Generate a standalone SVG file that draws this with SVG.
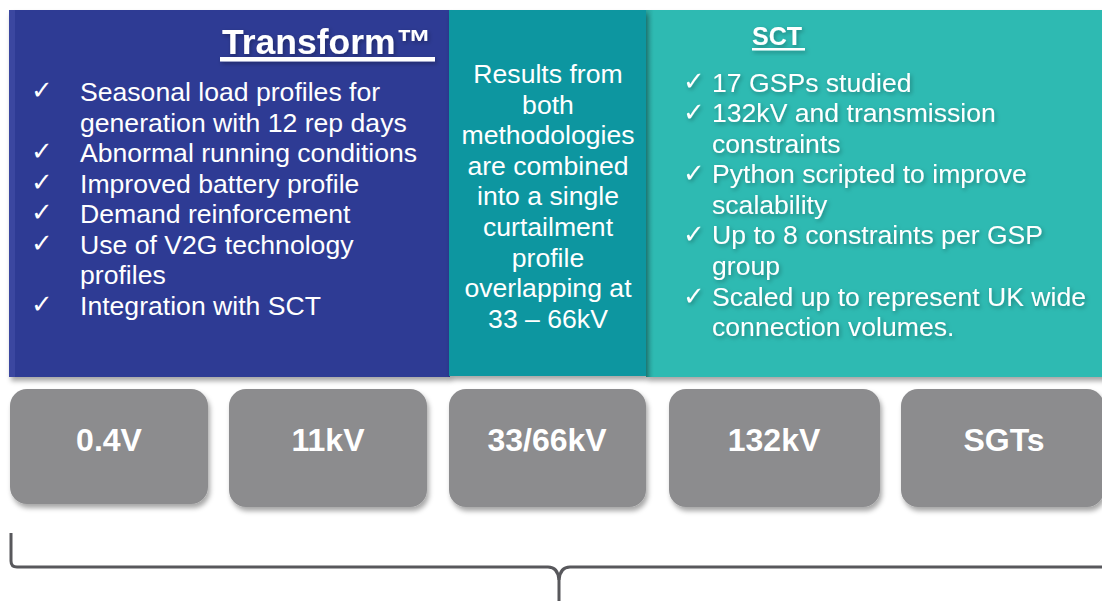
<svg xmlns="http://www.w3.org/2000/svg" width="1102" height="601" viewBox="0 0 1102 601">
<defs>
<style>
.body{font-family:"Liberation Sans",Arial,sans-serif;font-size:26.6px;fill:#fff}
.chk{font-family:"DejaVu Sans",sans-serif;font-size:26px;fill:#fff}
.ttl{font-family:"Liberation Sans",Arial,sans-serif;font-weight:bold;fill:#fff}
.box{fill:#8c8c8e}
.lbl{font-family:"Liberation Sans",Arial,sans-serif;font-weight:bold;font-size:32px;fill:#fff;text-anchor:middle}
.brace{fill:none;stroke:#58585c;stroke-width:3;stroke-linejoin:round}
</style>
<filter id="sh" x="-5%" y="-5%" width="110%" height="115%">
<feDropShadow dx="2" dy="4" stdDeviation="2.5" flood-color="#000" flood-opacity="0.35"/>
</filter>
<filter id="tsh" x="-10%" y="-20%" width="120%" height="150%">
<feDropShadow dx="1.5" dy="2" stdDeviation="2" flood-color="#000" flood-opacity="0.3"/>
</filter>
<linearGradient id="edge" x1="0" x2="1" y1="0" y2="0">
<stop offset="0" stop-color="#000" stop-opacity="0.12"/>
<stop offset="1" stop-color="#000" stop-opacity="0"/>
</linearGradient>
</defs>
<rect width="1102" height="601" fill="#fff"/>

<g id="transform-panel">
<rect x="9" y="10" width="441" height="367" fill="#2e3a94" filter="url(#sh)"/>
<rect x="9" y="10" width="6" height="367" fill="#4450a8" opacity="0.6"/>
<g filter="url(#tsh)">
<text class="ttl" x="222" y="54" font-size="35.5">Transform<tspan font-size="35" dx="1">™</tspan></text>
<rect x="220" y="57" width="215" height="4.5" fill="#fff"/>
</g>
<g class="chk">
<text x="31" y="99">✓</text>
<text x="31" y="160">✓</text>
<text x="31" y="191">✓</text>
<text x="31" y="221">✓</text>
<text x="31" y="252">✓</text>
<text x="31" y="313">✓</text>
</g>
<g class="body">
<text x="80" y="101">Seasonal load profiles for</text>
<text x="80" y="131.5">generation with 12 rep days</text>
<text x="80" y="162">Abnormal running conditions</text>
<text x="80" y="192.5">Improved battery profile</text>
<text x="80" y="223">Demand reinforcement</text>
<text x="80" y="253.5">Use of V2G technology</text>
<text x="80" y="284">profiles</text>
<text x="80" y="314.5">Integration with SCT</text>
</g>
</g>

<g id="sct-panel">
<rect x="646" y="10" width="460" height="367" fill="#2dbab2" filter="url(#sh)"/>
<rect x="646" y="10" width="8" height="367" fill="url(#edge)"/>
<g filter="url(#tsh)">
<text class="ttl" x="752" y="45" font-size="25">SCT</text>
<rect x="752" y="48" width="53" height="2.5" fill="#fff"/>
</g>
<g filter="url(#tsh)">
<g class="chk">
<text x="683" y="90">✓</text>
<text x="683" y="120.5">✓</text>
<text x="683" y="182">✓</text>
<text x="683" y="243">✓</text>
<text x="683" y="304.5">✓</text>
</g>
<g class="body">
<text x="712" y="91.5">17 GSPs studied</text>
<text x="712" y="122">132kV and transmission</text>
<text x="712" y="152.6">constraints</text>
<text x="712" y="183.2">Python scripted to improve</text>
<text x="712" y="213.8">scalability</text>
<text x="712" y="244.4">Up to 8 constraints per GSP</text>
<text x="712" y="275">group</text>
<text x="712" y="305.6">Scaled up to represent UK wide</text>
<text x="712" y="336.2">connection volumes.</text>
</g>
</g>
</g>

<g id="combined-panel">
<rect x="449" y="10" width="197" height="366" fill="#0a96a0" filter="url(#sh)"/>
<g class="body" text-anchor="middle">
<text x="548" y="83">Results from</text>
<text x="548" y="113.6">both</text>
<text x="548" y="144.2">methodologies</text>
<text x="548" y="174.8">are combined</text>
<text x="548" y="205.4">into a single</text>
<text x="548" y="236">curtailment</text>
<text x="548" y="266.6">profile</text>
<text x="548" y="297.2">overlapping at</text>
<text x="548" y="327.8">33 – 66kV</text>
</g>
</g>

<g id="box-04v">
<rect class="box" x="10" y="389" width="198" height="115" rx="17" filter="url(#sh)"/>
<text class="lbl" x="109" y="451">0.4V</text>
</g>
<g id="box-11kv">
<rect class="box" x="229" y="389" width="198" height="118" rx="17" filter="url(#sh)"/>
<text class="lbl" x="328" y="451">11kV</text>
</g>
<g id="box-3366kv">
<rect class="box" x="449" y="389" width="197" height="118" rx="17" filter="url(#sh)"/>
<text class="lbl" x="547" y="451">33/66kV</text>
</g>
<g id="box-132kv">
<rect class="box" x="669" y="389" width="211" height="118" rx="17" filter="url(#sh)"/>
<text class="lbl" x="774" y="451">132kV</text>
</g>
<g id="box-sgts">
<rect class="box" x="901" y="389" width="203" height="118" rx="17" filter="url(#sh)"/>
<text class="lbl" x="1004" y="451">SGTs</text>
</g>

<g id="connectors">
<path class="brace" d="M11 533 L11 561 Q11 567 17 567 L548 567 Q558 567 559 580 L559 601"/>
<path class="brace" d="M1104 567 L570 567 Q560 567 559 580"/>
</g>
</svg>
